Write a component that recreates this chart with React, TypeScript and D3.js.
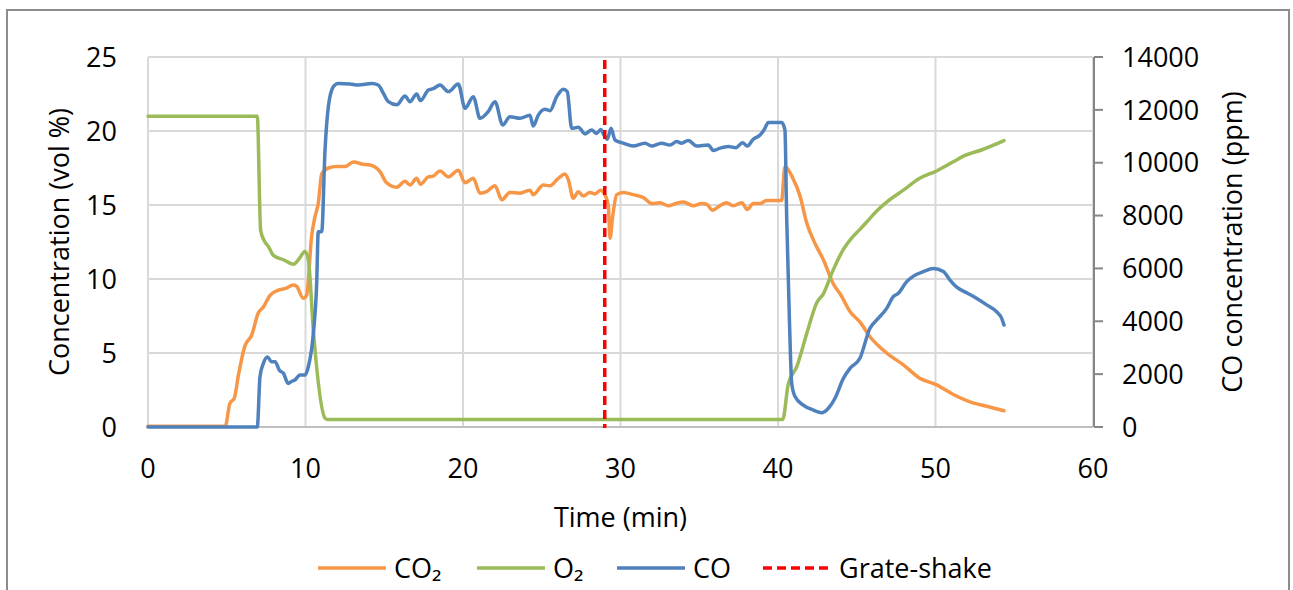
import React from "react";
import * as d3 from "d3";

const co2Time = [0, 4.9, 5.2, 5.48, 5.74, 6.16, 6.58, 7.0, 7.32, 7.75, 8.28, 8.7, 9.23, 9.44, 9.86, 10.07, 10.39, 10.6, 10.81, 11.03, 11.45, 11.98, 12.5, 13.04, 13.67, 14.1, 14.73, 15.15, 15.79, 16.32, 16.63, 17.06, 17.3, 17.8, 18.1, 18.54, 19.07, 19.7, 20.13, 20.65, 21.08, 21.5, 22.03, 22.46, 22.98, 23.62, 24.25, 24.46, 25.1, 25.52, 26.05, 26.48, 26.69, 27.0, 27.32, 27.64, 28.06, 28.38, 28.74, 28.95, 29.23, 29.33, 29.5, 29.76, 30.18, 30.8, 31.45, 31.98, 32.5, 33.04, 33.5, 33.99, 34.62, 35.16, 35.47, 35.85, 36.31, 36.74, 37.16, 37.7, 38.05, 38.43, 38.86, 39.28, 40.23, 40.44, 40.9, 41.4, 41.82, 42.35, 42.88, 43.5, 44.0, 44.57, 45.2, 45.84, 46.9, 47.96, 49.0, 50.07, 51.13, 52.19, 53.25, 54.35];
const co2Values = [0.05, 0.05, 1.6, 1.95, 3.5, 5.5, 6.2, 7.7, 8.1, 8.9, 9.25, 9.35, 9.6, 9.5, 8.7, 8.9, 12.9, 14.2, 15.1, 17.1, 17.5, 17.6, 17.6, 17.9, 17.75, 17.7, 17.25, 16.5, 16.2, 16.6, 16.35, 16.8, 16.4, 16.9, 16.95, 17.3, 16.9, 17.35, 16.5, 16.8, 15.8, 15.9, 16.3, 15.35, 15.85, 15.8, 16.0, 15.7, 16.35, 16.3, 16.8, 17.1, 16.7, 15.45, 15.9, 15.6, 15.85, 15.75, 16.0, 15.8, 14.9, 12.75, 14.2, 15.7, 15.85, 15.7, 15.5, 15.1, 15.15, 14.95, 15.1, 15.2, 14.95, 15.1, 15.05, 14.65, 14.95, 15.15, 14.95, 15.15, 14.7, 15.1, 15.1, 15.3, 15.3, 17.6, 16.9, 15.6, 13.8, 12.4, 11.3, 9.7, 8.9, 7.8, 7.1, 6.1, 5.0, 4.2, 3.3, 2.85, 2.2, 1.7, 1.4, 1.1];

const o2Time = [0, 6.94, 7.15, 7.37, 7.64, 7.96, 8.6, 9.23, 9.55, 9.97, 10.18, 10.5, 11.24, 11.4, 40.3, 40.65, 41.2, 41.82, 42.46, 42.88, 43.5, 44.15, 44.7, 45.2, 45.84, 46.27, 46.9, 47.96, 49.0, 50.07, 51.1, 51.77, 53.0, 54.35];
const o2Values = [21, 21, 13.3, 12.6, 12.2, 11.6, 11.3, 11.0, 11.3, 11.85, 11.3, 6.5, 0.6, 0.5, 0.5, 2.9, 4.1, 6.3, 8.4, 9.0, 10.6, 12.0, 12.8, 13.35, 14.1, 14.6, 15.2, 16.0, 16.8, 17.3, 17.9, 18.3, 18.75, 19.35];

const coTime = [0, 6.94, 7.11, 7.32, 7.58, 7.85, 8.07, 8.34, 8.6, 8.9, 9.1, 9.33, 9.65, 9.97, 10.18, 10.5, 10.71, 10.81, 11.03, 11.24, 11.45, 11.77, 12.08, 12.83, 13.35, 14.2, 14.62, 14.94, 15.26, 15.79, 16.32, 16.63, 17.06, 17.3, 17.8, 18.11, 18.54, 19.07, 19.7, 20.13, 20.65, 21.08, 21.6, 22.03, 22.52, 22.98, 23.62, 24.25, 24.46, 24.78, 25.2, 25.52, 25.95, 26.37, 26.62, 26.9, 27.32, 27.75, 28.17, 28.49, 28.74, 28.95, 29.16, 29.4, 29.65, 30.18, 30.8, 31.56, 31.98, 32.6, 33.14, 33.57, 33.88, 34.3, 34.84, 35.57, 35.9, 36.32, 36.85, 37.33, 37.75, 38.05, 38.43, 38.86, 39.11, 39.39, 40.23, 40.44, 40.55, 40.72, 40.87, 41.08, 41.6, 42.24, 42.78, 43.2, 43.62, 44.15, 44.57, 45.2, 45.84, 46.27, 46.9, 47.32, 47.64, 48.17, 48.6, 49.23, 49.86, 50.5, 50.92, 51.35, 51.98, 52.6, 53.25, 53.88, 54.2, 54.35];
const coValues = [0, 0, 1900, 2400, 2650, 2470, 2470, 2150, 2030, 1650, 1720, 1780, 1970, 1970, 2280, 3550, 5440, 7390, 7390, 10480, 12120, 12880, 13000, 12980, 12940, 13000, 12940, 12630, 12310, 12190, 12520, 12310, 12600, 12350, 12750, 12800, 12940, 12690, 12980, 12060, 12500, 11680, 11930, 12310, 11430, 11740, 11680, 11800, 11390, 11800, 12020, 11970, 12500, 12780, 12690, 11300, 11340, 11090, 11240, 11110, 11260, 11050, 10890, 11300, 10860, 10740, 10630, 10740, 10630, 10740, 10670, 10800, 10740, 10840, 10630, 10670, 10460, 10550, 10610, 10570, 10760, 10630, 10890, 11050, 11240, 11520, 11520, 11240, 7960, 4170, 1650, 1150, 830, 640, 540, 710, 1090, 1840, 2220, 2600, 3735, 4050, 4490, 4930, 5060, 5500, 5710, 5880, 6000, 5880, 5560, 5290, 5080, 4870, 4620, 4360, 4110, 3860];

const grateShakeTime = 29;

const xTicks = [0, 10, 20, 30, 40, 50, 60];
const leftTicks = [0, 5, 10, 15, 20, 25];
const rightTicks = [0, 2000, 4000, 6000, 8000, 10000, 12000, 14000];

const legendItems = [
  { label: "CO₂", color: "#F79646", dash: "" },
  { label: "O₂", color: "#9BBB59", dash: "" },
  { label: "CO", color: "#4F81BD", dash: "" },
  { label: "Grate-shake", color: "#FF0000", dash: "9,5" },
];

const FONT = "'Open Sans', sans-serif";

export default function App() {
  const W = 1293, H = 590;
  const x = d3.scaleLinear().domain([0, 60]).range([148, 1093]);
  const yL = d3.scaleLinear().domain([0, 25]).range([427, 57]);
  const yR = d3.scaleLinear().domain([0, 14000]).range([427, 57]);

  const mk = (ts: number[], vs: number[], y: d3.ScaleLinear<number, number>) =>
    d3.line<number>().x((_, i) => x(ts[i])).y((v) => y(v)).curve(d3.curveMonotoneX)(vs) || "";

  const co2Path = mk(co2Time, co2Values, yL);
  const o2Path = mk(o2Time, o2Values, yL);
  const coPath = mk(coTime, coValues, yR);

  const legendX = [318, 477, 617, 763];
  const legendY = 568;

  return (
    <svg width={W} height={H} style={{ position: "absolute", left: 0, top: 0, background: "#fff" }} fontFamily={FONT}>
      <rect x={0} y={0} width={W} height={H} fill="#fff" />
      <rect x={7} y={10} width={1282} height={640} fill="none" stroke="#8c8c8c" strokeWidth={2} />
      {/* gridlines */}
      {leftTicks.map((t) => (
        <line key={"gh" + t} x1={x(0)} x2={x(60)} y1={yL(t)} y2={yL(t)} stroke="#d9d9d9" strokeWidth={2} />
      ))}
      {xTicks.map((t) => (
        <line key={"gv" + t} x1={x(t)} x2={x(t)} y1={yL(25)} y2={yL(0)} stroke="#d9d9d9" strokeWidth={2} />
      ))}
      <line x1={x(0)} x2={x(60)} y1={yL(0)} y2={yL(0)} stroke="#bfbfbf" strokeWidth={2} />
      {/* right axis */}
      <line x1={x(60) + 1} x2={x(60) + 1} y1={yR(14000)} y2={yR(0)} stroke="#868686" strokeWidth={2} />
      {rightTicks.map((t) => (
        <line key={"rt" + t} x1={x(60) + 1} x2={x(60) + 10} y1={yR(t)} y2={yR(t)} stroke="#868686" strokeWidth={2} />
      ))}
      {/* series */}
      <path d={co2Path} fill="none" stroke="#F79646" strokeWidth={3.5} strokeLinejoin="round" strokeLinecap="round" />
      <path d={o2Path} fill="none" stroke="#9BBB59" strokeWidth={3.5} strokeLinejoin="round" strokeLinecap="round" />
      <path d={coPath} fill="none" stroke="#4F81BD" strokeWidth={3.5} strokeLinejoin="round" strokeLinecap="round" />
      <line x1={x(grateShakeTime)} x2={x(grateShakeTime)} y1={yL(25) + 3} y2={yL(0) + 1} stroke="#FF0000" strokeWidth={3.5} strokeDasharray="9,5" />
      {/* tick labels */}
      {leftTicks.map((t) => (
        <text key={"lt" + t} x={117} y={yL(t)} dy="0.36em" textAnchor="end" fontSize={27} fill="#000">{t}</text>
      ))}
      {rightTicks.map((t) => (
        <text key={"rl" + t} x={1122} y={yR(t)} dy="0.36em" textAnchor="start" fontSize={27} fill="#000">{t}</text>
      ))}
      {xTicks.map((t) => (
        <text key={"xl" + t} x={x(t)} y={478} textAnchor="middle" fontSize={27} fill="#000">{t}</text>
      ))}
      {/* axis titles */}
      <text x={x(30)} y={527} textAnchor="middle" fontSize={27} fill="#000">Time (min)</text>
      <text transform={`translate(69,242) rotate(-90)`} textAnchor="middle" fontSize={27} fill="#000">Concentration (vol %)</text>
      <text transform={`translate(1242,242) rotate(-90)`} textAnchor="middle" fontSize={27} fill="#000">CO concentration (ppm)</text>
      {/* legend */}
      {legendItems.map((it, i) => (
        <g key={it.label}>
          <line x1={legendX[i]} x2={legendX[i] + 68} y1={legendY} y2={legendY} stroke={it.color} strokeWidth={3.5} strokeDasharray={it.dash || undefined} />
          <text x={legendX[i] + 76} y={legendY + 10} fontSize={27} fill="#000">{it.label}</text>
        </g>
      ))}
    </svg>
  );
}
